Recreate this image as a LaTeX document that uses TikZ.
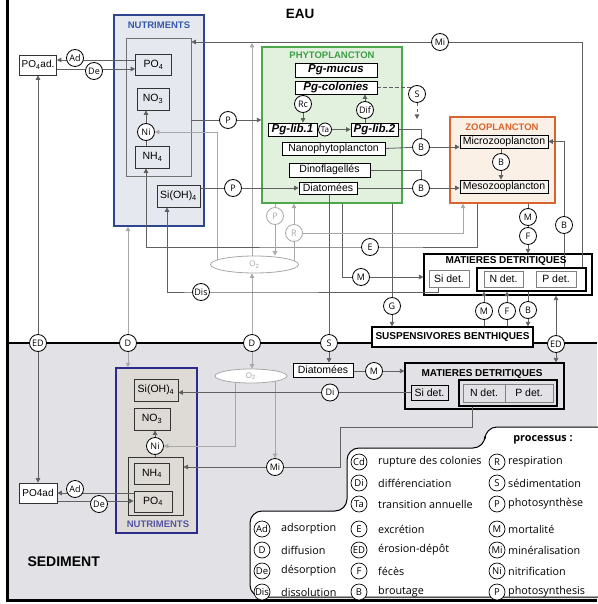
\documentclass[tikz,border=0pt]{standalone}
\usepackage{fontspec}
\setmainfont{Liberation Sans}
\newfontfamily\legfont{Open Sans}
\usetikzlibrary{arrows.meta,shapes.geometric}
\pgfdeclarelayer{back}
\pgfdeclarelayer{lines}
\pgfsetlayers{back,lines,main}
\definecolor{ldark}{HTML}{606060}
\definecolor{llight}{HTML}{A8A8A8}
\definecolor{sedbg}{HTML}{E2E2E6}
\definecolor{nutfill}{HTML}{E5E8EF}
\definecolor{nutblue}{HTML}{2E4590}
\definecolor{nuttitle}{HTML}{3558A8}
\definecolor{phyfill}{HTML}{E2F0DE}
\definecolor{phyborder}{HTML}{4DA84D}
\definecolor{phytitle}{HTML}{3E9E48}
\definecolor{zoofill}{HTML}{FAF0E6}
\definecolor{zooborder}{HTML}{D8652E}
\definecolor{zoobox}{HTML}{F7F3EE}
\definecolor{nutSfill}{HTML}{DEDBD6}
\definecolor{nutSblue}{HTML}{2B2B8C}
\tikzset{
 boxx/.style={draw=black!80, line width=0.7pt, inner sep=0pt, font=\fontsize{10.5}{12}\selectfont},
 sz/.style 2 args={minimum width=#1pt, minimum height=#2pt},
 circ/.style={circle, draw=black, line width=0.8pt, fill=white, inner sep=0pt, minimum size=17pt, font=\legfont\fontsize{9}{10}\selectfont},
 gcirc/.style={circ, draw=llight, text=llight},
 ln/.style={draw=ldark, line width=0.8pt},
 lg/.style={draw=llight, line width=0.8pt},
 arr/.style={-{Triangle[length=4.5pt,width=4.5pt]}},
 ttl/.style={font=\bfseries\fontsize{9.5}{11}\selectfont},
 ttlb/.style={font=\bfseries\fontsize{10}{12}\selectfont},
 pgbox/.style={boxx, fill=white, draw=black, font=\bfseries\itshape\fontsize{11.5}{12}\selectfont},
 oxy/.style={ellipse, draw=llight, fill=white, line width=0.8pt, inner sep=0pt, text=llight, font=\fontsize{8}{9}\selectfont},
 lcirc/.style={circle, draw=black, line width=0.7pt, fill=white, inner sep=0pt, minimum size=16pt, font=\legfont\fontsize{9.5}{10}\selectfont},
 ltext/.style={anchor=west, inner sep=0pt, font=\legfont\fontsize{10.8}{12}\selectfont},
}
\newcommand\legit[6]{\node[lcirc] (#1) at (#2,#3) {#4}; \node[ltext] (#1t) at (#5,#3) {#6};}
\begin{document}
\begin{tikzpicture}[x=1pt,y=-1pt]
\useasboundingbox (0,0) rectangle (597,604);
% ---------- background layer
\begin{pgfonlayer}{back}
\fill[sedbg] (7,343) rectangle (597,600);
\node[draw=nutblue, line width=1.3pt, fill=nutfill, sz={90}{211}] (nutW) at (159,120.5) {};
\node[draw=black!55, line width=0.7pt, sz={65}{138}] (nutWin) at (158.5,107) {};
\node[draw=phyborder, line width=1.3pt, fill=phyfill, sz={140}{156}] (phyto) at (332,125) {};
\node[draw=zooborder, line width=1.3pt, fill=zoofill, sz={105}{86}] (zoo) at (502.5,160) {};
\node[draw=black, line width=1.2pt, fill=white, sz={168}{41}] (mdW) at (508,274.5) {};
\node[draw=black, line width=1.2pt, sz={109}{23}] (mdWin) at (531.5,279.5) {};
\node[draw=nutSblue, line width=1.3pt, fill=nutSfill, sz={81}{165}] (nutS) at (156.5,450.5) {};
\node[draw=black!80, line width=1pt, sz={55}{58}] (nutSin) at (155.5,486.5) {};
\node[draw=black, line width=1.2pt, fill=sedbg, sz={159}{46}] (mdS) at (484.5,386) {};
\node[draw=black, line width=1.2pt, sz={98}{26}] (mdSin) at (508,393) {};
\draw[black, line width=1pt, fill=white, rounded corners=12pt] (250,597) -- (250,511) -- (347,511) -- (347,448) -- (485,448) -- (485,427) -- (615,427) -- (615,597) -- cycle;
\draw[line width=2.5pt] (7,343) -- (597,343);
\draw[line width=3pt] (7,0) -- (7,601.5);
\draw[line width=3pt] (7,600) -- (597,600);
\end{pgfonlayer}
% ---------- titles
\node[font=\bfseries\fontsize{13.5}{15}\selectfont] (eau) at (300,14) {EAU};
\node[font=\bfseries\fontsize{14}{16}\selectfont, anchor=west] (sedt) at (24,562) {SEDIMENT};
\node[ttl, text=nuttitle] (nutWt) at (159,25) {NUTRIMENTS};
\node[ttl, text=phytitle] (phyt) at (332,55) {PHYTOPLANCTON};
\node[ttl, text=zooborder] (zoot) at (502,127) {ZOOPLANCTON};
\node[ttlb] (mdWt) at (506,261) {MATIERES DETRITIQUES};
\node[ttlb] (mdSt) at (482,373.5) {MATIERES DETRITIQUES};
\node[ttl, text=nutSblue!80!white] (nutSt) at (158,524.5) {NUTRIMENTS};
% ---------- water nutrients
\node[boxx, fill=nutfill, sz={36}{21}] (po4W) at (153.5,65) {PO\textsubscript{4}};
\node[boxx, fill=nutfill, sz={32}{22}] (no3W) at (153,99) {NO\textsubscript{3}};
\node[circ] (niW) at (146,132) {Ni};
\node[boxx, fill=nutfill, sz={34}{22}] (nh4W) at (152.5,157) {NH\textsubscript{4}};
\node[boxx, fill=nutfill, sz={43}{22}] (sioW) at (178.5,196) {Si(OH)\textsubscript{4}};
\node[boxx, fill=white, sz={37}{20}, font=\fontsize{10}{12}\selectfont] (po4adW) at (38,65) {PO\textsubscript{4}ad.};
\node[circ] (adW) at (75,58) {Ad};
\node[circ] (deW) at (94,71) {De};
% ---------- phytoplankton
\node[pgbox, sz={82}{14}] (mucus) at (336,70) {Pg-mucus};
\node[pgbox, sz={82}{13}] (colon) at (336,87.5) {Pg-colonies};
\node[pgbox, sz={49}{13}] (lib1) at (292.5,129.5) {Pg-lib.1};
\node[pgbox, sz={47}{13}] (lib2) at (374.5,129.5) {Pg-lib.2};
\node[circ, minimum size=13pt, font=\legfont\fontsize{8}{9}\selectfont] (ta) at (325,129.5) {Ta};
\node[circ] (rc) at (303,104) {Rc};
\node[circ] (dif) at (365,110) {Dif};
\node[boxx, fill=white, draw=black, sz={103}{13}] (nano) at (333.5,148.5) {Nanophytoplancton};
\node[boxx, fill=white, draw=black, sz={81}{14}] (dino) at (329.5,170) {Dinoflagellés};
\node[boxx, fill=white, draw=black, sz={58}{12}] (diat) at (328,188) {Diatomées};
\node[circ] (sW) at (417,94) {S};
\coordinate (sEnd) at (417,119);
\node[circ] (pA) at (228,120) {P};
\node[circ] (pB) at (233,188) {P};
\node[circ] (bA) at (421,147) {B};
\node[circ] (bB) at (421,188) {B};
% ---------- zooplankton
\node[boxx, fill=zoobox, draw=black, sz={88}{13}] (micro) at (504,141.5) {Microzooplancton};
\node[boxx, fill=zoobox, draw=black, sz={88}{13}] (meso) at (504,186.5) {Mesozooplancton};
\node[circ] (bZ) at (501,162) {B};
\node[circ] (mZ) at (528,217) {M};
\node[circ] (fZ) at (528,236) {F};
\node[circ] (bR) at (564,225) {B};
\node[circ] (miW) at (440,42) {Mi};
\coordinate (miR) at (582,42);
\coordinate (miJ) at (252,43);
% ---------- detritus water
\node[boxx, fill=white, draw=black!50, sz={40}{17}] (siDetW) at (449,278.5) {Si det.};
\node[boxx, fill=white, draw=black!50, sz={39}{16}] (nDetW) at (503.5,279) {N det.};
\node[boxx, fill=white, draw=black!50, sz={40}{16}] (pDetW) at (556,279) {P det.};
% ---------- middle
\node[gcirc] (pG) at (275,216) {P};
\node[gcirc] (rG) at (294,233) {R};
\node[oxy, minimum width=88pt, minimum height=17pt] (o2W) at (254.5,264.5) {O\textsubscript{2}};
\node[circ] (eW) at (370,247) {E};
\node[circ] (mW) at (361,277) {M};
\node[circ] (gW) at (392,306) {G};
\node[circ] (disW) at (201,292) {Dis};
\node[circ] (mB) at (484,311) {M};
\node[circ] (fB) at (507,311) {F};
\node[circ] (bB2) at (528,310) {B};
\node[boxx, fill=white, line width=1.2pt, draw=black, sz={161}{20}, font=\bfseries\fontsize{10}{12}\selectfont] (susp) at (452.5,337) {SUSPENSIVORES BENTHIQUES};
\node[circ] (edL) at (38,343) {ED};
\node[circ] (dL) at (128,343) {D};
\node[circ] (dM) at (252,343) {D};
\node[circ] (sB) at (329,343) {S};
\node[circ] (edR) at (556,344) {ED};
% ---------- sediment
\node[oxy, minimum width=72pt, minimum height=14pt] (o2S) at (251,376) {O\textsubscript{2}};
\node[boxx, fill=nutSfill, sz={44}{22}] (sioS) at (156,390) {Si(OH)\textsubscript{4}};
\node[boxx, fill=nutSfill, sz={36}{22}] (no3S) at (152,419) {NO\textsubscript{3}};
\node[circ] (niS) at (155,446) {Ni};
\node[boxx, fill=nutSfill, sz={35}{21}] (nh4S) at (152,473.5) {NH\textsubscript{4}};
\node[boxx, fill=nutSfill, sz={38}{21}] (po4S) at (153,501.5) {PO\textsubscript{4}};
\node[boxx, fill=white, sz={38}{20}, font=\fontsize{10}{12}\selectfont] (po4adS) at (38,493) {PO4ad};
\node[circ] (adS) at (75,489) {Ad};
\node[circ] (deS) at (99,504) {De};
\node[boxx, fill=white, draw=black, sz={60}{14}] (diatS) at (323,370) {Diatomées};
\node[circ] (mS) at (374,371) {M};
\node[boxx, fill=sedbg, draw=black, sz={37}{15}] (siDetS) at (429.5,392.5) {Si det.};
\node[boxx, fill=sedbg, draw=black!50, sz={42}{18}] (nDetS) at (484,393) {N det.};
\node[boxx, fill=sedbg, draw=black!50, sz={48}{18}] (pDetS) at (529,393) {P det.};
\node[circ] (diS) at (330,392.5) {Di};
\node[circ] (miS) at (275,467) {Mi};
\coordinate (mk) at (340,427);
% ---------- connectors
\begin{pgfonlayer}{lines}
% water nutrients
\draw[ln,arr] (po4W.west |- 0,60) -- (po4adW.east |- 0,60);
\draw[ln,arr] (po4adW.east |- 0,69) -- (po4W.west |- 0,69);
\draw[ln,arr] (edL) -- (po4adW.south);
\draw[ln,arr] (edL) -- (po4adS.north);
\draw[lg,arr] (dL) -- (dL |- nutW.south);
\draw[lg,arr] (dL) -- (dL |- nutS.north);
\draw[lg,arr] (dM) -- (dM |- o2W.south);
\draw[lg,arr] (dM) -- (dM |- o2S.north);
\draw[ln] (niW) -- (niW |- nh4W.north);
\draw[ln,arr] (niW) -- (niW |- no3W.south);
\draw[lg,arr] (o2W.center -| 217,0) |- (niW.east);
\draw[lg,arr] (o2W.center -| miJ) -- (miJ);
\draw[ln,arr] (nutWin.east |- pA) -- (phyto.west |- pA);
\draw[ln,arr] (sioW.east |- diat.west) -- (diat.west);
\draw[ln,arr] (mdWin.north -| miR) -- (miR) -- (nutWin.east |- miR);
% phyto internal
\draw[ln] (colon.south -| rc) -- (rc);
\draw[ln,arr] (rc) -- (rc |- lib1.north);
\draw[ln] (lib1.east) -- (ta);
\draw[ln,arr] (ta) -- (lib2.west);
\draw[ln] (lib2.north -| dif) -- (dif);
\draw[ln,arr] (dif) -- (dif |- colon.south);
\draw[ln,dash pattern=on 3.5pt off 2.5pt] (colon.east) -| (sW);
\draw[ln,dash pattern=on 3.5pt off 2.5pt,arr] (sW) -- (sEnd);
% grazing
\draw[ln] (lib2.east) -| (bA);
\draw[ln] (nano.east) -- (bA);
\draw[ln,arr] (bA) -- (bA -| micro.west);
\draw[ln] (dino.east) -| (bB);
\draw[ln] (diat.east) -- (bB);
\draw[ln,arr] (bB) -- (bB -| meso.west);
\draw[ln] (micro.south -| bZ) -- (bZ);
\draw[ln,arr] (bZ) -- (bZ |- meso.north);
\draw[ln,arr] (zoo.south -| mZ) -- (mZ |- mdW.north);
\draw[ln,arr] (mdWin.north -| bR) |- (micro.east);
% middle flows
\draw[ln,arr] (zoo.south -| 477,0) |- (eW.center) -| (niW |- nh4W.south);
\draw[ln,arr] (phyto.south -| 342,0) |- (mdW.west |- mW);
\draw[ln,arr] (phyto.south -| gW) -- (gW |- susp.north);
\draw[ln,arr] (diat.south -| sB) -- (sB |- diatS.north);
\draw[ln,arr] (siDetW.south -| 438,0) |- (disW.center) -| (sioW.south -| 167,0);
\draw[lg,arr] (phyto.south -| pG) -- (pG |- o2W.north);
\draw[lg,arr] (o2W.center -| rG) -- (rG |- phyto.south);
\draw[lg,arr] (rG) -| (zoo.south -| 463,0);
\draw[ln,arr] (susp.north -| mB) -- (mB |- mdWin.south);
\draw[ln,arr] (susp.north -| fB) -- (fB |- mdWin.south);
\draw[ln,arr] (mdWin.south -| bB2) -- (bB2 |- susp.north);
\draw[ln,arr] (edR) -- (edR |- mdW.south);
\draw[ln,arr] (edR) -- (edR |- mdS.north);
% sediment
\draw[ln] (niS) -- (niS |- nutSin.north);
\draw[ln,arr] (niS) -- (niS |- no3S.south);
\draw[ln,arr] (po4S.west |- 0,493) -- (po4adS.east |- 0,493);
\draw[ln,arr] (po4adS.east |- 0,501) -- (po4S.west |- 0,501);
\draw[lg,arr] (o2S.center -| 235,0) |- (niS.east);
\draw[lg,arr] (o2S.center -| miS) -- (miS.north);
\draw[ln] (diatS.east |- mS) -- (mS);
\draw[ln,arr] (mS) -- (mS -| mdS.west);
\draw[ln,arr] (siDetS.west) -- (siDetS.west -| sioS.east);
\draw[ln,arr] (mdSin.south -| 472,0) |- (mk) |- (nutSin.east |- miS);
\end{pgfonlayer}
% ---------- legend
\node[font=\legfont\bfseries\fontsize{10.8}{12}\selectfont] (proc) at (543,440) {processus :};
\legit{lAd}{262}{529}{Ad}{281}{adsorption}
\legit{lD}{262}{550}{D}{281}{diffusion}
\legit{lDe}{262}{571}{De}{281}{désorption}
\legit{lDis}{262}{592}{Dis}{281}{dissolution}
\legit{lCd}{359}{462}{Cd}{378}{rupture des colonies}
\legit{lDi}{359}{483}{Di}{378}{différenciation}
\legit{lTa}{359}{504}{Ta}{378}{transition annuelle}
\legit{lE}{359}{529}{E}{378}{excrétion}
\legit{lED}{359}{550}{ED}{378}{érosion-dépôt}
\legit{lF}{359}{571}{F}{378}{fécès}
\legit{lB}{359}{592}{B}{378}{broutage}
\legit{lR}{497}{462}{R}{508}{respiration}
\legit{lS}{497}{483}{S}{508}{sédimentation}
\legit{lP}{497}{504}{P}{508}{photosynthèse}
\legit{lM}{497}{529}{M}{508}{mortalité}
\legit{lMi}{497}{550}{Mi}{508}{minéralisation}
\legit{lNi}{497}{571}{Ni}{508}{nitrification}
\legit{lP2}{497}{592}{P}{508}{photosynthesis}
\end{tikzpicture}
\end{document}
